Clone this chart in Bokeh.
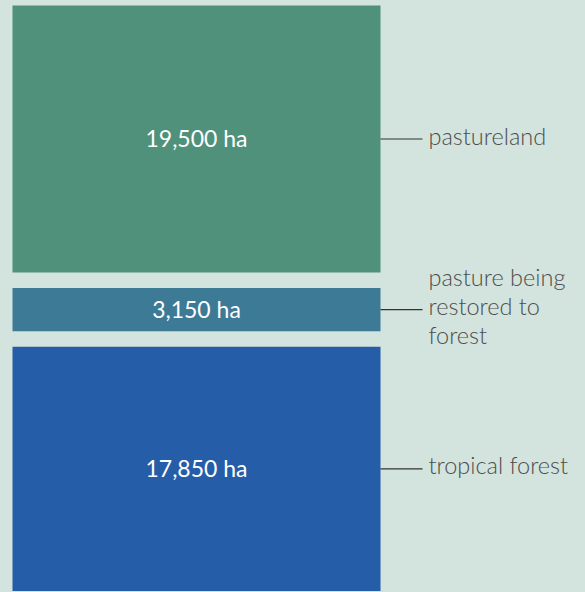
from bokeh.plotting import figure
from bokeh.models import Range1d, ColumnDataSource
from bokeh.core.properties import value
from bokeh.embed import file_html
from bokeh.resources import INLINE

# data
categories = ["pastureland", "pasture being\nrestored to\nforest", "tropical forest"]
areas_ha = [19500, 3150, 17850]
value_labels = ["19,500 ha", "3,150 ha", "17,850 ha"]
colors = ["#4f917a", "#3d7a96", "#255da8"]

W, H = 585, 592
BG = "#d3e3dd"
TOP_PX = 5
SCALE = 267 / 19500.0  # px per ha
GAP_PX = 15.5
gap = GAP_PX / SCALE

tops, bottoms = [], []
cur = 0.0
for a in areas_ha:
    tops.append(cur)
    bottoms.append(cur + a)
    cur += a + gap
mids = [(t + b) / 2 for t, b in zip(tops, bottoms)]

p = figure(width=W, height=H, output_backend="svg", toolbar_location=None,
           x_range=Range1d(0, W),
           y_range=Range1d((H - TOP_PX) / SCALE, -TOP_PX / SCALE),
           min_border=0, border_fill_color=BG, background_fill_color=BG,
           outline_line_color=None)
p.axis.visible = False
p.grid.visible = False

src = ColumnDataSource(dict(top=tops, bottom=bottoms, mid=mids, color=colors,
                            vlabel=value_labels, cat=categories,
                            left=[12] * 3, right=[380] * 3,
                            lx0=[380] * 3, lx1=[422] * 3, tx=[428] * 3,
                            cx=[196] * 3))
p.quad(left="left", right="right", top="top", bottom="bottom", fill_color="color",
       line_color=None, source=src)
p.segment(x0="lx0", x1="lx1", y0="mid", y1="mid", line_color="#333333", line_width=1.2, source=src)
p.text(x="cx", y="mid", text="vlabel", text_align="center", text_baseline="middle",
       text_color="white", text_font=value("Lato"), text_font_size="23px",
       y_offset=-1, source=src)
p.text(x="tx", y="mid", text="cat", text_align="left", text_baseline="middle",
       text_color="#4d4d4d", text_font=value("'Lato Light', Lato"), text_font_size="23.5px",
       text_line_height=1.04, y_offset=-3.5, source=src)

template = """{% block preamble %}<style>html,body{margin:0;padding:0;background:#d3e3dd;overflow:hidden;}</style>{% endblock %}"""
open("out.html", "w").write(file_html(p, INLINE, template=template))
